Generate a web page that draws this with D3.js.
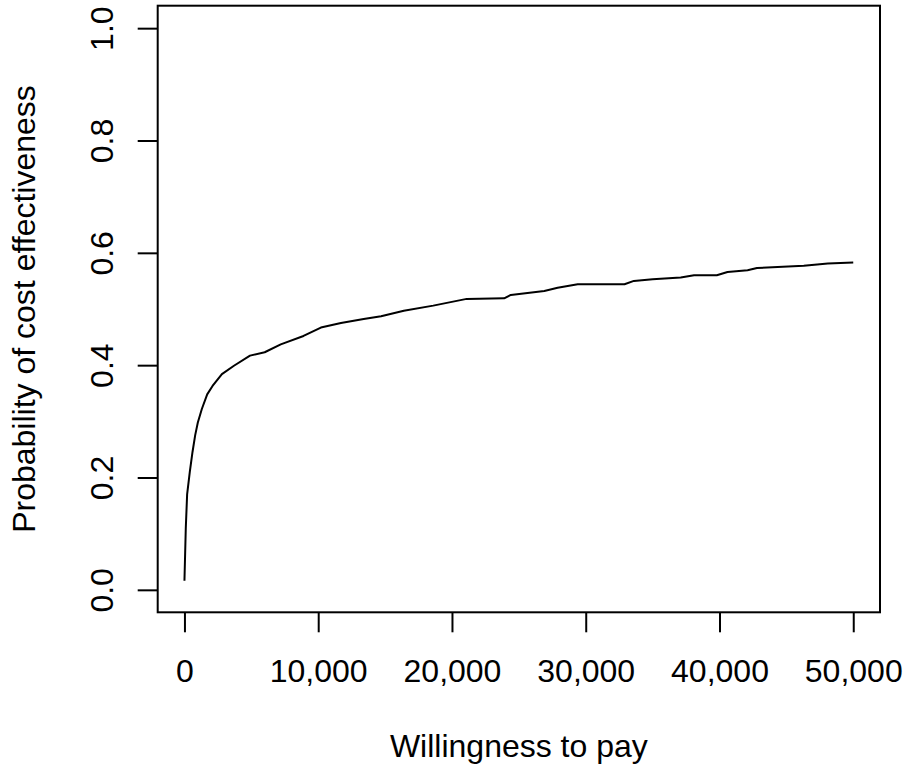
<!DOCTYPE html>
<html>
<head>
<meta charset="utf-8">
<script src="https://cdn.jsdelivr.net/npm/d3@7"></script>
<style>
  html, body { margin: 0; padding: 0; background: #fff; }
  svg { display: block; }
  text { font-family: "Liberation Sans", Arial, Helvetica, sans-serif; fill: #000; }
</style>
</head>
<body>
<svg id="chart" width="906" height="768"></svg>
<script>
// Data
const wtp = [0, 100, 200, 400, 600, 800, 1000, 1300, 1700, 2100, 2800, 3700, 4900, 6000, 7200, 8900, 10200, 11700, 13400, 14700, 16400, 18600, 21100, 23900, 24400, 26900, 27900, 29400, 32900, 33600, 35000, 37100, 38100, 39800, 40600, 42100, 42800, 46300, 48100, 50000];
const prob = [0.016, 0.11, 0.17, 0.21, 0.245, 0.275, 0.298, 0.322, 0.348, 0.363, 0.384, 0.399, 0.417, 0.423, 0.437, 0.452, 0.467, 0.475, 0.482, 0.487, 0.497, 0.506, 0.518, 0.519, 0.525, 0.532, 0.538, 0.544, 0.544, 0.550, 0.553, 0.556, 0.560, 0.560, 0.566, 0.569, 0.573, 0.577, 0.581, 0.583];
const xTicks = [0, 10000, 20000, 30000, 40000, 50000];
const yTicks = [0, 0.2, 0.4, 0.6, 0.8, 1.0];
const xTitle = "Willingness to pay";
const yTitle = "Probability of cost effectiveness";

const svg = d3.select("#chart");
const plotL = 157.7, plotR = 880, plotT = 5.7, plotB = 612.3;
const fs = 32;

// R-style 4% domain extension
const x = d3.scaleLinear().domain([-2000, 52000]).range([plotL, plotR]);
const y = d3.scaleLinear().domain([-0.04, 1.04]).range([plotB, plotT]);

svg.append("rect").attr("x", 0).attr("y", 0).attr("width", 906).attr("height", 768).attr("fill", "#fff");

// curve
const data = wtp.map((w, i) => [w, prob[i]]);
svg.append("path")
  .datum(data)
  .attr("fill", "none")
  .attr("stroke", "#000")
  .attr("stroke-width", 2)
  .attr("stroke-linejoin", "round")
  .attr("d", d3.line().x(d => x(d[0])).y(d => y(d[1])));

// box
svg.append("rect")
  .attr("x", plotL).attr("y", plotT)
  .attr("width", plotR - plotL).attr("height", plotB - plotT)
  .attr("fill", "none").attr("stroke", "#000").attr("stroke-width", 2);

// x axis
const gx = svg.append("g").attr("transform", `translate(0,${plotB})`)
  .call(d3.axisBottom(x).tickValues(xTicks).tickFormat(d3.format(",")).tickSize(20).tickSizeOuter(0));
gx.select(".domain").remove();
gx.selectAll(".tick line").attr("stroke", "#000").attr("stroke-width", 2);
gx.selectAll(".tick text").attr("y", 70).attr("dy", 0)
  .style("font-size", fs + "px").attr("fill", "#000");

// y axis
const gy = svg.append("g").attr("transform", `translate(${plotL},0)`)
  .call(d3.axisLeft(y).tickValues(yTicks).tickFormat(d3.format(".1f")).tickSize(20).tickSizeOuter(0));
gy.select(".domain").remove();
gy.selectAll(".tick line").attr("stroke", "#000").attr("stroke-width", 2);
gy.selectAll(".tick text")
  .attr("x", null).attr("dy", 0)
  .attr("text-anchor", "middle")
  .attr("transform", "translate(-44.7,0) rotate(-90)")
  .style("font-size", fs + "px").attr("fill", "#000");

// titles
svg.append("text")
  .attr("x", (plotL + plotR) / 2).attr("y", 757)
  .attr("text-anchor", "middle")
  .style("font-size", fs + "px")
  .text(xTitle);

svg.append("text")
  .attr("transform", `translate(35,${(plotT + plotB) / 2}) rotate(-90)`)
  .attr("text-anchor", "middle")
  .style("font-size", fs + "px")
  .text(yTitle);
</script>
</body>
</html>
